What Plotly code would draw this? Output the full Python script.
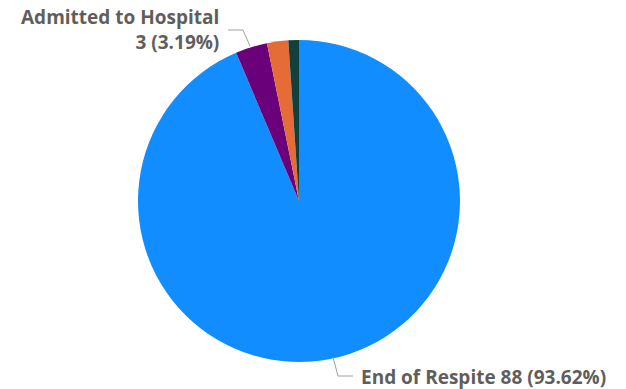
import plotly.graph_objects as go

labels = ["End of Respite", "Admitted to Hospital", "Discharged Home", "Other"]
values = [88, 3, 2, 1]
colors = ["#118DFF", "#6B007B", "#E66C37", "#12403C"]

W, H = 626, 389
total = sum(values)

def px(x):
    return x / W

def py(y):
    return 1 - y / H

cx, cy, r = 299, 201, 161

fig = go.Figure(go.Pie(
    labels=labels,
    values=values,
    marker=dict(colors=colors, line=dict(width=0)),
    sort=False,
    direction="clockwise",
    rotation=0,
    textinfo="none",
    hole=0,
    domain=dict(x=[px(cx - r), px(cx + r)], y=[py(cy + r), py(cy - r)]),
    showlegend=False,
))

font = dict(family="Open Sans, Noto Sans, sans-serif", size=19, color="#605E5C")

def lbl(i, two_line):
    pct = values[i] / total * 100
    sep = "<br>" if two_line else " "
    return f"<b>{labels[i]}{sep}{values[i]} ({pct:.2f}%)</b>"

fig.add_annotation(text=lbl(1, True), xref="paper", yref="paper",
                   x=px(221), y=py(30), xanchor="right", yanchor="middle",
                   align="right", showarrow=False, font=font)
fig.add_annotation(text=lbl(0, False), xref="paper", yref="paper",
                   x=px(359), y=py(377), xanchor="left", yanchor="middle",
                   align="left", showarrow=False, font=font)

line = dict(color="#A0A0A0", width=1)
fig.add_shape(type="path", xref="paper", yref="paper",
              path=f"M {px(228)} {py(30)} L {px(243)} {py(30)} L {px(250)} {py(46)}",
              line=line)
fig.add_shape(type="path", xref="paper", yref="paper",
              path=f"M {px(333)} {py(357)} L {px(338)} {py(376)} L {px(353)} {py(376)}",
              line=line)

fig.update_layout(width=W, height=H, margin=dict(l=0, r=0, t=0, b=0),
                  paper_bgcolor="white", plot_bgcolor="white")
fig.write_html("out.html")
